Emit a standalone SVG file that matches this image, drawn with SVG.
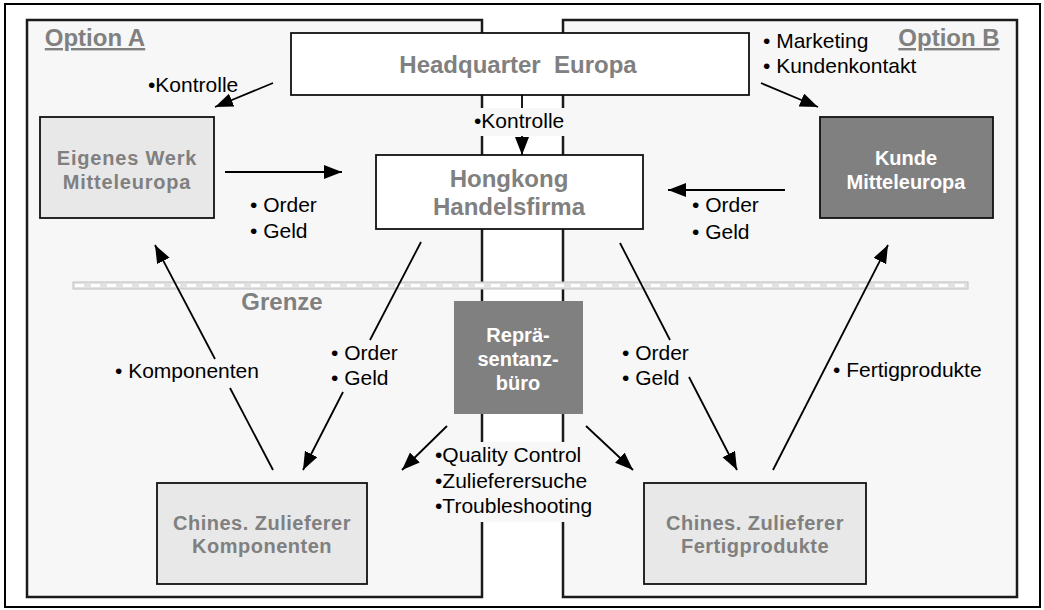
<svg xmlns="http://www.w3.org/2000/svg" width="1044" height="610" viewBox="0 0 1044 610">
<style>
.panel{fill:#f7f7f7;stroke:#1a1a1a;stroke-width:2.5}
.box{stroke:#111;stroke-width:1.8}
.lbl{font-family:"Liberation Sans",Arial,sans-serif;font-size:21px;fill:#000}
.bold{font-family:"Liberation Sans",Arial,sans-serif;font-weight:bold;fill:#808080;text-anchor:middle}
.wb{fill:#fff}
.conn line{stroke:#000;stroke-width:1.8}
.bg{fill:#f7f7f7}
</style>
<defs>
<marker id="ah" markerUnits="userSpaceOnUse" markerWidth="20" markerHeight="16" refX="18" refY="7" orient="auto">
<path d="M0,0 L18,7 L0,14 z" fill="#000"/>
</marker>
</defs>
<rect x="0" y="0" width="1044" height="610" fill="#fff"/>
<rect x="5" y="4" width="1035" height="603" fill="#fff" stroke="#000" stroke-width="2"/>
<g id="optionA">
<rect class="panel" x="27" y="20" width="455" height="577"/>
<text class="bold" x="95" y="46" font-size="24" text-decoration="underline">Option A</text>
</g>
<g id="optionB">
<rect class="panel" x="563" y="20" width="454" height="577"/>
<text class="bold" x="949" y="46" font-size="24" text-decoration="underline">Option B</text>
</g>
<g id="grenze">
<rect x="73" y="282" width="895" height="7" fill="#e2e2e2" stroke="#c2c2c2" stroke-width="1"/>
<line x1="75" y1="285.5" x2="966" y2="285.5" stroke="#fff" stroke-width="3" stroke-dasharray="9 7"/>
<text class="bold" x="282" y="310" font-size="24">Grenze</text>
</g>
<g id="label-backgrounds">
<rect class="bg" x="470" y="108" width="102" height="28"/>
<rect class="bg" x="433" y="442" width="167" height="80"/>
</g>
<g id="hq">
<rect class="box" x="291" y="33" width="458" height="62" fill="#fff"/>
<text class="bold" x="518" y="73" font-size="24" xml:space="preserve">Headquarter  Europa</text>
</g>
<g id="eigenes">
<rect class="box" x="40" y="117" width="174" height="101" fill="#e8e8e8"/>
<text class="bold" x="127" y="165" font-size="20" letter-spacing="0.8">Eigenes Werk</text>
<text class="bold" x="127" y="189" font-size="20" letter-spacing="0.8">Mitteleuropa</text>
</g>
<g id="hongkong">
<rect class="box" x="376" y="155" width="267" height="74" fill="#fff"/>
<text class="bold" x="509" y="187" font-size="24">Hongkong</text>
<text class="bold" x="509" y="215" font-size="24">Handelsfirma</text>
</g>
<g id="kunde">
<rect class="box" x="820" y="117" width="173" height="101" fill="#808080"/>
<text class="bold wb" x="906" y="165" font-size="20">Kunde</text>
<text class="bold wb" x="906" y="189" font-size="20">Mitteleuropa</text>
</g>
<g id="repraesentanz">
<rect x="454" y="301" width="129" height="113" fill="#808080"/>
<text class="bold wb" x="518" y="342" font-size="20">Reprä-</text>
<text class="bold wb" x="518" y="366" font-size="20">sentanz-</text>
<text class="bold wb" x="518" y="390" font-size="20">büro</text>
</g>
<g id="chines-komponenten">
<rect class="box" x="157" y="483" width="210" height="101" fill="#e8e8e8"/>
<text class="bold" x="262" y="530" font-size="20" letter-spacing="0.5">Chines. Zulieferer</text>
<text class="bold" x="262" y="553" font-size="20" letter-spacing="0.5">Komponenten</text>
</g>
<g id="chines-fertig">
<rect class="box" x="644" y="483" width="222" height="101" fill="#e8e8e8"/>
<text class="bold" x="755" y="530" font-size="20" letter-spacing="0.5">Chines. Zulieferer</text>
<text class="bold" x="755" y="553" font-size="20" letter-spacing="0.5">Fertigprodukte</text>
</g>
<g class="conn" id="connectors">
<line x1="273" y1="83" x2="215" y2="107" marker-end="url(#ah)"/>
<line x1="761" y1="83" x2="818" y2="107" marker-end="url(#ah)"/>
<line x1="522" y1="95" x2="522" y2="108"/>
<line x1="522" y1="136" x2="522" y2="155" marker-end="url(#ah)"/>
<line x1="225" y1="172" x2="342" y2="172" marker-end="url(#ah)"/>
<line x1="785" y1="190" x2="668" y2="190" marker-end="url(#ah)"/>
<line x1="421" y1="242" x2="370" y2="340"/>
<line x1="343" y1="392" x2="303" y2="470" marker-end="url(#ah)"/>
<line x1="620" y1="243" x2="670" y2="340"/>
<line x1="689" y1="377" x2="737" y2="470" marker-end="url(#ah)"/>
<line x1="273" y1="470" x2="230" y2="388"/>
<line x1="215" y1="359" x2="155" y2="245" marker-end="url(#ah)"/>
<line x1="773" y1="470" x2="888" y2="245" marker-end="url(#ah)"/>
<line x1="447" y1="426" x2="402" y2="470" marker-end="url(#ah)"/>
<line x1="586" y1="426" x2="633" y2="470" marker-end="url(#ah)"/>
</g>
<g id="labels">
<text class="lbl" x="148" y="92">•Kontrolle</text>
<text class="lbl" x="474" y="128">•Kontrolle</text>
<text class="lbl" x="763" y="48">• Marketing</text>
<text class="lbl" x="763" y="73">• Kundenkontakt</text>
<text class="lbl" x="250" y="212">• Order</text>
<text class="lbl" x="250" y="238">• Geld</text>
<text class="lbl" x="692" y="212">• Order</text>
<text class="lbl" x="692" y="239">• Geld</text>
<text class="lbl" x="115" y="378">• Komponenten</text>
<text class="lbl" x="331" y="360">• Order</text>
<text class="lbl" x="331" y="385">• Geld</text>
<text class="lbl" x="622" y="360">• Order</text>
<text class="lbl" x="622" y="385">• Geld</text>
<text class="lbl" x="833" y="377">• Fertigprodukte</text>
<text class="lbl" x="435" y="462">•Quality Control</text>
<text class="lbl" x="435" y="488">•Zulieferersuche</text>
<text class="lbl" x="435" y="513">•Troubleshooting</text>
</g>
</svg>
